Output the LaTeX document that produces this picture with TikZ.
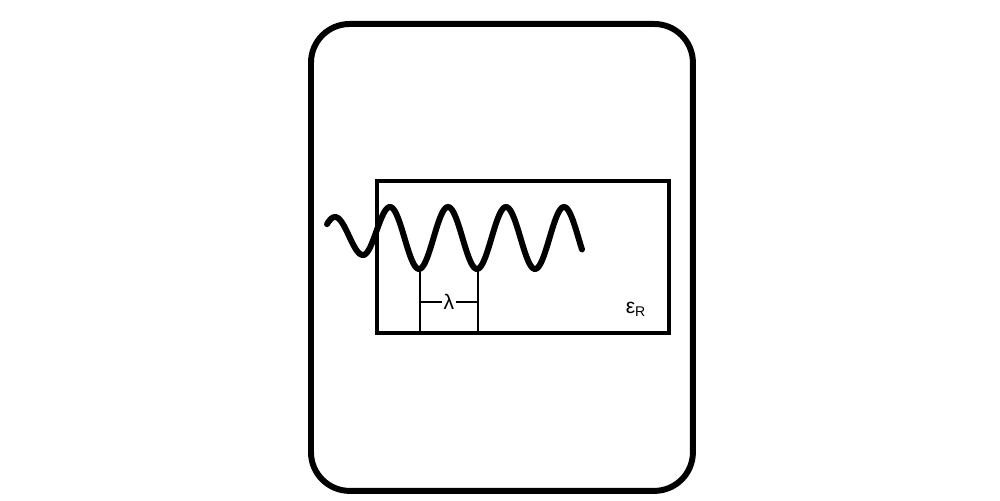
\documentclass[tikz,border=0pt]{standalone}
\usepackage{fontspec}
\setmainfont{Liberation Sans}
\begin{document}
\begin{tikzpicture}[x=0.02cm,y=-0.02cm]
\useasboundingbox (0,0) rectangle (1000,500);
\node (frame) [rectangle, draw, line width=3.4pt, rounded corners=22, minimum width=7.64cm, minimum height=9.34cm, anchor=north west] at (308,21) {};
\node (medium) [rectangle, draw, line width=2.5pt, minimum width=5.84cm, minimum height=3.04cm, anchor=north west] at (375,179) {};

% wave
\draw[line width=3.4pt, line cap=round, domain=327:363, samples=40] plot (\x, {236-19*sin(360/56*(\x-321))});
\draw[line width=3.4pt, domain=363:390, samples=30] plot (\x, {231+24*cos(180/27*(\x-363))});
\draw[line width=3.4pt, line cap=round, domain=390:582, samples=150] plot (\x, {238-31*cos(360/58*(\x-390))});

% wavelength
\coordinate (lamA) at (420,270);
\coordinate (lamB) at (478,270);
\draw[line width=1.1pt] (lamA) -- (lamA |- medium.south);
\draw[line width=1.1pt] (lamB) -- (lamB |- medium.south);
\node (lam) [inner sep=1pt, font=\large] at (449,302) {λ};
\draw[line width=1.1pt] (lam.west) -- (lamA |- lam.west);
\draw[line width=1.1pt] (lam.east) -- (lamB |- lam.east);
\node (eps) [font=\large] at (636,309) {ε\textsubscript{R}};
\end{tikzpicture}
\end{document}
